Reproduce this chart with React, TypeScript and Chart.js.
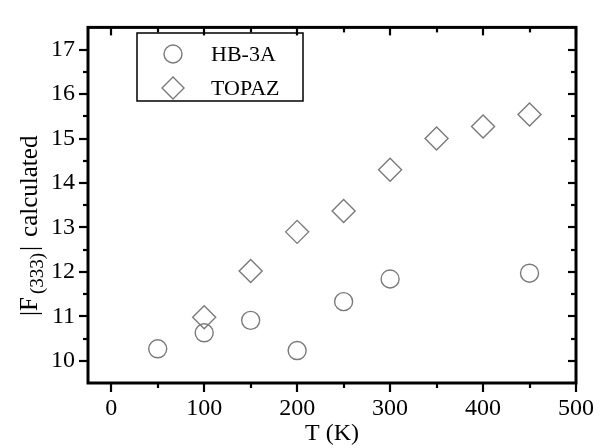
import React, { useEffect, useRef } from "react";
import { Chart, registerables } from "chart.js";

Chart.register(...registerables);

const hb3aT = [50, 100, 150, 200, 250, 300, 450];
const hb3aF = [10.27, 10.63, 10.91, 10.23, 11.33, 11.84, 11.97];
const topazT = [100, 150, 200, 250, 300, 350, 400, 450];
const topazF = [10.98, 12.02, 12.9, 13.37, 14.3, 15.0, 15.27, 15.54];
const xTicks = [0, 100, 200, 300, 400, 500];
const xMinor = [50, 150, 250, 350, 450];
const yTicks = [10, 11, 12, 13, 14, 15, 16, 17];
const yMinor = [10.5, 11.5, 12.5, 13.5, 14.5, 15.5, 16.5];
const seriesNames = ["HB-3A", "TOPAZ"];
const xTitle = "T (K)";

const FONT = '"Liberation Serif", "Times New Roman", serif';
const MARK = "#7a7a7a";

const framePlugin = {
  id: "frame",
  afterDraw(chart: any) {
    const { ctx, chartArea: a, scales } = chart;
    const xs = scales.x;
    const ys = scales.y;
    ctx.save();
    ctx.strokeStyle = "#000";
    ctx.lineCap = "butt";
    ctx.lineWidth = 2.2;
    const tk = (x1: number, y1: number, x2: number, y2: number) => {
      ctx.beginPath();
      ctx.moveTo(x1, y1);
      ctx.lineTo(x2, y2);
      ctx.stroke();
    };
    xTicks.forEach((v) => {
      const px = Math.round(xs.getPixelForValue(v));
      tk(px, a.bottom, px, a.bottom + 9);
      tk(px, a.top, px, a.top + 8);
    });
    xMinor.forEach((v) => {
      const px = Math.round(xs.getPixelForValue(v));
      tk(px, a.bottom, px, a.bottom + 5);
      tk(px, a.top, px, a.top + 5);
    });
    yTicks.forEach((v) => {
      const py = Math.round(ys.getPixelForValue(v));
      tk(a.left, py, a.left - 9, py);
      tk(a.right, py, a.right - 8, py);
    });
    yMinor.forEach((v) => {
      const py = Math.round(ys.getPixelForValue(v));
      tk(a.left, py, a.left - 5, py);
      tk(a.right, py, a.right - 5, py);
    });
    ctx.lineWidth = 3;
    ctx.strokeRect(a.left, a.top, a.right - a.left, a.bottom - a.top);

    // legend
    ctx.lineWidth = 1.5;
    ctx.strokeRect(137, 33, 166, 68);
    ctx.strokeStyle = MARK;
    ctx.lineWidth = 1.4;
    ctx.beginPath();
    ctx.arc(173, 54, 9, 0, Math.PI * 2);
    ctx.stroke();
    ctx.beginPath();
    ctx.moveTo(173, 88 - 11);
    ctx.lineTo(173 + 11, 88);
    ctx.lineTo(173, 88 + 11);
    ctx.lineTo(173 - 11, 88);
    ctx.closePath();
    ctx.stroke();
    ctx.fillStyle = "#000";
    ctx.font = `22px ${FONT}`;
    ctx.textBaseline = "middle";
    ctx.textAlign = "left";
    ctx.fillText(seriesNames[0], 211, 55);
    ctx.fillText(seriesNames[1], 211, 89);

    // y title with subscript
    ctx.save();
    ctx.translate(37, 316);
    ctx.rotate(-Math.PI / 2);
    ctx.textBaseline = "alphabetic";
    ctx.textAlign = "left";
    let p = 0;
    ctx.font = `25px ${FONT}`;
    ctx.fillText("|F", p, 0);
    p += ctx.measureText("|F").width + 3;
    ctx.font = `19px ${FONT}`;
    ctx.fillText("(333)", p, 6);
    p += ctx.measureText("(333)").width + 2;
    ctx.font = `25px ${FONT}`;
    ctx.fillText("|", p, 0);
    p += ctx.measureText("|").width + 9;
    ctx.fillText("calculated", p, 0);
    ctx.restore();

    ctx.restore();
  },
};

export default function App() {
  const ref = useRef<HTMLCanvasElement>(null);
  useEffect(() => {
    if (!ref.current) return;
    const chart = new Chart(ref.current, {
      type: "scatter",
      data: {
        datasets: [
          {
            label: seriesNames[0],
            data: hb3aT.map((t, i) => ({ x: t, y: hb3aF[i] })),
            pointStyle: "circle",
            pointRadius: 9,
            pointHoverRadius: 9,
            borderColor: MARK,
            backgroundColor: "transparent",
            borderWidth: 1.4,
            showLine: false,
          },
          {
            label: seriesNames[1],
            data: topazT.map((t, i) => ({ x: t, y: topazF[i] })),
            pointStyle: "rectRot",
            pointRadius: 11.5,
            pointHoverRadius: 11.5,
            borderColor: MARK,
            backgroundColor: "transparent",
            borderWidth: 1.4,
            showLine: false,
          },
        ],
      },
      options: {
        responsive: false,
        animation: false,
        events: [],
        layout: { padding: { left: 0, top: 17, right: 20, bottom: 0 } },
        plugins: {
          legend: { display: false },
          tooltip: { enabled: false },
          title: { display: false },
        },
        scales: {
          x: {
            type: "linear",
            min: -25,
            max: 500,
            afterBuildTicks: (s: any) => {
              s.ticks = xTicks.map((v) => ({ value: v }));
            },
            afterFit: (s: any) => {
              s.height = 65;
            },
            grid: { display: false, drawTicks: false },
            border: { display: false },
            ticks: {
              padding: 11,
              color: "#000",
              font: { family: FONT, size: 24 },
              maxRotation: 0,
              autoSkip: false,
            },
            title: {
              display: true,
              text: xTitle,
              color: "#000",
              font: { family: FONT, size: 24 },
              padding: { top: 4, bottom: 0 },
            },
          },
          y: {
            type: "linear",
            min: 9.5,
            max: 17.5,
            afterBuildTicks: (s: any) => {
              s.ticks = yTicks.map((v) => ({ value: v }));
            },
            afterFit: (s: any) => {
              s.width = 88;
            },
            grid: { display: false, drawTicks: false },
            border: { display: false },
            ticks: {
              padding: 13,
              color: "#000",
              font: { family: FONT, size: 24 },
              autoSkip: false,
            },
          },
        },
      },
      plugins: [framePlugin],
    });
    return () => chart.destroy();
  }, []);
  return (
    <div style={{ position: "absolute", left: 0, top: 0, width: 605, height: 448, background: "#fff" }}>
      <canvas ref={ref} width={605} height={448} style={{ display: "block" }} />
    </div>
  );
}
